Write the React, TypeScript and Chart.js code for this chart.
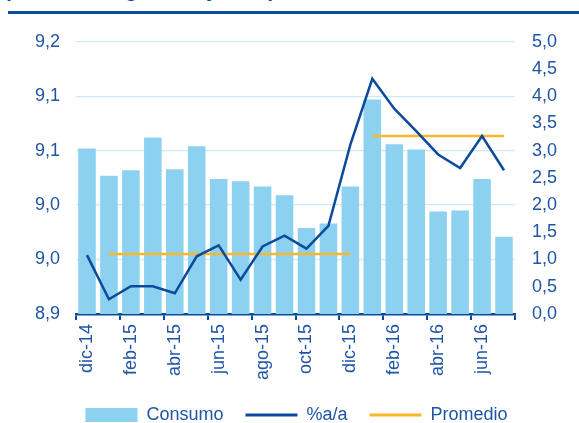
import React, { useEffect, useRef } from 'react';
import { Chart, registerables } from 'chart.js';

Chart.register(...registerables);

const categories = ['dic-14', 'ene-15', 'feb-15', 'mar-15', 'abr-15', 'may-15', 'jun-15', 'jul-15', 'ago-15', 'sep-15', 'oct-15', 'nov-15', 'dic-15', 'ene-16', 'feb-16', 'mar-16', 'abr-16', 'may-16', 'jun-16', 'jul-16'];
const consumo = [9.052, 9.027, 9.032, 9.062, 9.033, 9.054, 9.024, 9.022, 9.017, 9.009, 8.979, 8.983, 9.017, 9.097, 9.056, 9.051, 8.994, 8.995, 9.024, 8.971];
const variacion = [1.08, 0.27, 0.51, 0.51, 0.38, 1.06, 1.26, 0.63, 1.24, 1.44, 1.20, 1.62, 3.11, 4.32, 3.77, 3.36, 2.93, 2.68, 3.27, 2.64];
const promedio2015 = [null, 1.1, 1.1, 1.1, 1.1, 1.1, 1.1, 1.1, 1.1, 1.1, 1.1, 1.1, 1.1, null, null, null, null, null, null, null];
const promedio2016 = [null, null, null, null, null, null, null, null, null, null, null, null, null, 3.27, 3.27, 3.27, 3.27, 3.27, 3.27, 3.27];
const leftTickLabels = ['8,9', '9,0', '9,0', '9,1', '9,1', '9,2'];
const rightTickLabels = ['0,0', '0,5', '1,0', '1,5', '2,0', '2,5', '3,0', '3,5', '4,0', '4,5', '5,0'];
const titleText = '(Millones de galones y %a/a)';

const FONT = 'Arial, "Liberation Sans", sans-serif';
const TEXT_BLUE = '#1f55a6';
const LINE_BLUE = '#0c4a9c';
const BAR_BLUE = '#8dd1f1';
const ORANGE = '#fbb62c';
const GRID = '#c9ecf8';
const FS = 18;

export default function App() {
  const ref = useRef<HTMLCanvasElement | null>(null);

  useEffect(() => {
    if (!ref.current) return;
    const chart = new Chart(ref.current, {
      type: 'bar',
      data: {
        labels: categories,
        datasets: [
          {
            type: 'bar',
            label: 'Consumo',
            data: consumo,
            backgroundColor: BAR_BLUE,
            borderWidth: 0,
            barPercentage: 0.8,
            categoryPercentage: 1,
            yAxisID: 'y',
            order: 3,
          },
          {
            type: 'line',
            label: '%a/a',
            data: variacion,
            borderColor: LINE_BLUE,
            backgroundColor: LINE_BLUE,
            borderWidth: 2.5,
            pointRadius: 0,
            tension: 0,
            yAxisID: 'y1',
            order: 1,
          },
          {
            type: 'line',
            label: 'Promedio',
            data: promedio2015,
            borderColor: ORANGE,
            backgroundColor: ORANGE,
            borderWidth: 2.5,
            pointRadius: 0,
            spanGaps: false,
            yAxisID: 'y1',
            order: 2,
          },
          {
            type: 'line',
            label: 'Promedio2',
            data: promedio2016,
            borderColor: ORANGE,
            backgroundColor: ORANGE,
            borderWidth: 2.5,
            pointRadius: 0,
            spanGaps: false,
            yAxisID: 'y1',
            order: 2,
          },
        ] as any,
      },
      options: {
        animation: false,
        responsive: false,
        maintainAspectRatio: false,
        layout: { padding: { left: 19, right: 5, top: 3, bottom: 4 } },
        plugins: {
          tooltip: { enabled: false },
          title: { display: false },
          legend: {
            position: 'bottom',
            labels: {
              usePointStyle: true,
              pointStyleWidth: 52,
              boxHeight: 14,
              padding: 22,
              color: TEXT_BLUE,
              font: { family: FONT, size: FS },
              sort: (a: any, b: any) => a.datasetIndex - b.datasetIndex,
              generateLabels: (c: any) => {
                const items = (Chart.defaults.plugins.legend.labels as any).generateLabels(c);
                return items
                  .filter((i: any) => i.datasetIndex !== 3)
                  .map((i: any) => ({
                    ...i,
                    pointStyle: i.datasetIndex === 0 ? 'rect' : 'line',
                    lineWidth: i.datasetIndex === 0 ? 0 : 3,
                  }));
              },
            },
          },
        },
        scales: {
          x: {
            offset: true,
            grid: {
              offset: true,
              drawOnChartArea: false,
              drawTicks: true,
              tickLength: 6,
              lineWidth: 2,
              color: (ctx: any) => (ctx.index === undefined || ctx.index % 2 === 0 ? LINE_BLUE : 'rgba(0,0,0,0)'),
            },
            border: { display: true, color: LINE_BLUE, width: 2.5 },
            ticks: {
              autoSkip: false,
              maxRotation: 90,
              minRotation: 90,
              padding: 4,
              color: TEXT_BLUE,
              font: { family: FONT, size: FS },
              callback: (_v: any, i: number) => (i % 2 === 0 ? categories[i] : ''),
            },
          },
          y: {
            position: 'left',
            min: 8.9,
            max: 9.15,
            ticks: {
              stepSize: 0.05,
              padding: 16,
              color: TEXT_BLUE,
              font: { family: FONT, size: FS },
              callback: (_v: any, i: number) => leftTickLabels[i],
            },
            grid: { color: GRID, lineWidth: 1.2, drawTicks: false },
            border: { display: false },
          },
          y1: {
            position: 'right',
            min: 0,
            max: 5,
            ticks: {
              stepSize: 0.5,
              padding: 17,
              color: TEXT_BLUE,
              font: { family: FONT, size: FS },
              callback: (_v: any, i: number) => rightTickLabels[i],
            },
            grid: { display: false, drawTicks: false },
            border: { display: false },
          },
        },
      } as any,
    });
    return () => chart.destroy();
  }, []);

  return (
    <div style={{ position: 'fixed', left: 0, top: 0, width: 579, height: 423, overflow: 'hidden', background: '#fff' }}>
      <div
        style={{
          position: 'absolute',
          left: 4,
          top: -20,
          fontFamily: FONT,
          fontWeight: 'bold',
          fontSize: 20,
          lineHeight: '20px',
          color: LINE_BLUE,
          whiteSpace: 'nowrap',
        }}
      >
        {titleText}
      </div>
      <div style={{ position: 'absolute', left: 8, right: 0, top: 11, height: 3, background: '#0a4ea2' }} />
      <canvas ref={ref} width={579} height={424} style={{ position: 'absolute', left: 0, top: 14, width: 579, height: 424 }} />
    </div>
  );
}
